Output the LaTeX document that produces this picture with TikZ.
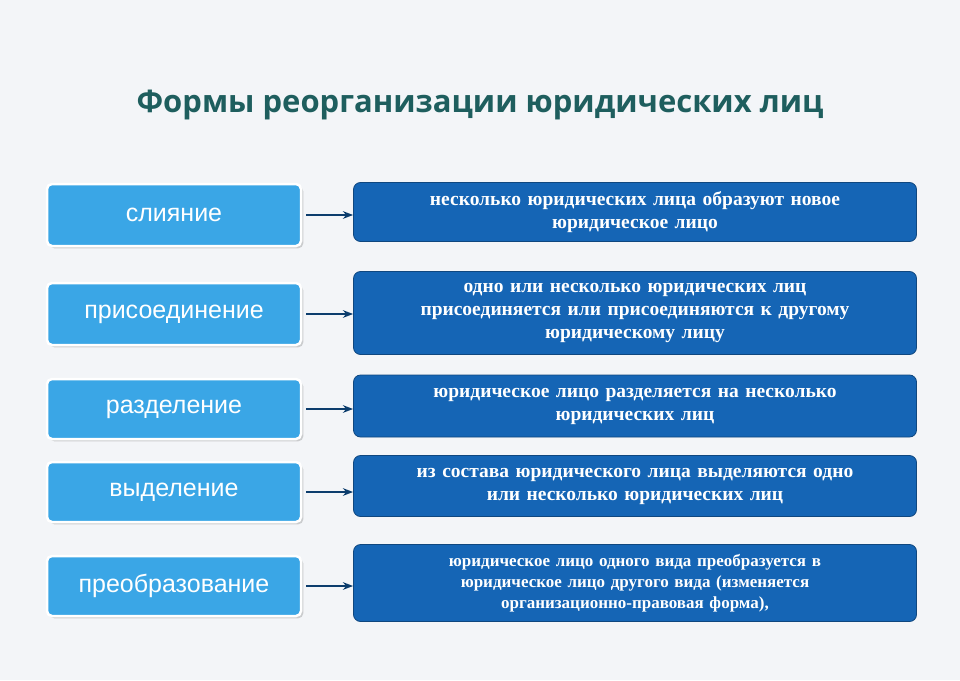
\documentclass[tikz,border=0pt]{standalone}
\usepackage{fontspec}
\setmainfont{Liberation Serif}
\newfontfamily\titlefont{Open Sans}
\newfontfamily\leftfont{Liberation Sans}
\usetikzlibrary{arrows.meta, shadows}
\definecolor{titleteal}{HTML}{1E5E5E}
\definecolor{lightbox}{HTML}{3AA6E6}
\definecolor{darkbox}{HTML}{1565B5}
\definecolor{bgcol}{HTML}{F3F5F8}

\begin{document}
\begin{tikzpicture}[x=1pt,y=-1pt,>=Stealth,
 form/.style={rectangle,rounded corners=5pt,draw=white,line width=2.5pt,
   fill=lightbox,text=white,font=\leftfont\fontsize{25}{25}\selectfont,
   minimum width=254pt,drop shadow={opacity=0.35}},
 desc/.style={rectangle,rounded corners=7pt,draw=darkbox!70!black,line width=0.8pt,
   fill=darkbox,text=white,font=\bfseries\fontsize{19.5}{23}\selectfont,
   minimum width=563pt,text width=550pt,align=center,inner sep=2pt}]
\fill[bgcol] (0,0) rectangle (960,680);
\useasboundingbox (0,0) rectangle (960,680);
\node[text=titleteal,font=\titlefont\bfseries\fontsize{31}{31}\selectfont] (title) at (480,105)
 {Формы реорганизации юридических лиц};
% left column
\node[form,minimum height=62pt] (f1) at (174,215) {слияние};
\node[form,minimum height=62pt] (f2) at (174,314) {присоединение};
\node[form,minimum height=60pt] (f3) at (174,409) {разделение};
\node[form,minimum height=60pt] (f4) at (174,492) {выделение};
\node[form,minimum height=60pt] (f5) at (174,586) {преобразование};
% right column
\node[desc,minimum height=59pt] (d1) at (635,212)
 {несколько юридических лица образуют новое\\юридическое лицо};
\node[desc,minimum height=83pt] (d2) at (635,313)
 {одно или несколько юридических лиц\\присоединяется или присоединяются к другому\\юридическому лицу};
\node[desc,minimum height=62pt] (d3) at (635,406)
 {юридическое лицо разделяется на несколько\\юридических лиц};
\node[desc,minimum height=61pt] (d4) at (635,486)
 {из состава юридического лица выделяются одно\\или несколько юридических лиц};
\node[desc,minimum height=77pt,font=\bfseries\fontsize{17}{21}\selectfont] (d5) at (635,583)
 {юридическое лицо одного вида преобразуется в\\юридическое лицо другого вида (изменяется\\организационно-правовая форма),};
\foreach \s/\t in {f1/d1, f2/d2, f3/d3, f4/d4, f5/d5}{
  \draw[->,line width=1.6pt,darkbox!60!black] (\s.east) ++(4,0) -- (\t.west |- \s.east);}
\end{tikzpicture}
\end{document}
